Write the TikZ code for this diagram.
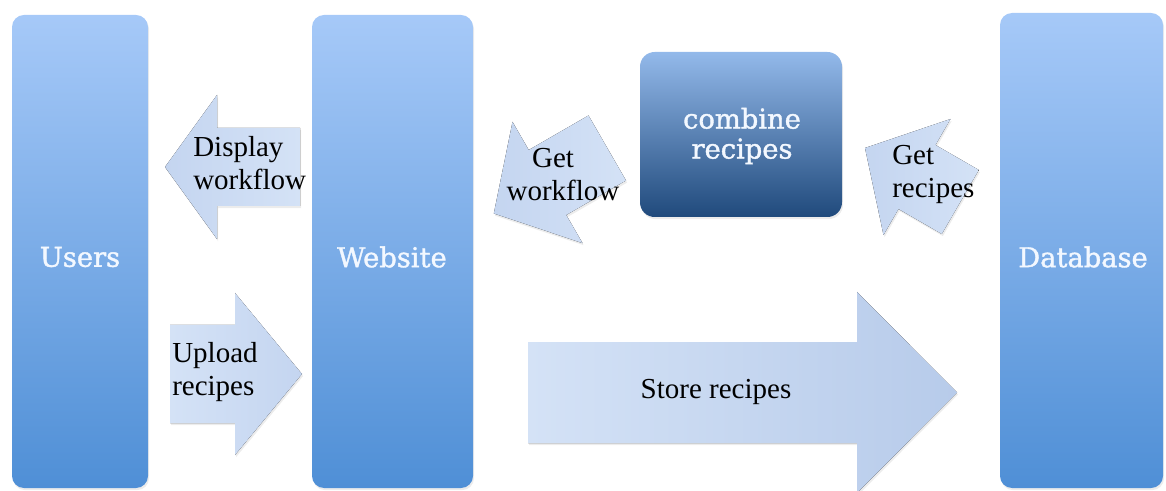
\documentclass[tikz,border=0pt]{standalone}
\usepackage{fontspec}
\setmainfont{Liberation Serif}
\newfontfamily\boxfont[FakeBold=1.4]{DejaVu Serif}
\usetikzlibrary{shadows}
\definecolor{tallTop}{HTML}{A6C9F8}
\definecolor{tallBot}{HTML}{4F8FD6}
\definecolor{combTop}{HTML}{93B9EA}
\definecolor{combBot}{HTML}{204A7C}
\definecolor{arrLight}{HTML}{D4E2F6}
\definecolor{arrMid}{HTML}{C4D5F0}
\definecolor{arrDark}{HTML}{B7CBEA}
\definecolor{boxText}{HTML}{F3F8FF}
\begin{document}
\begin{tikzpicture}[x=0.75pt,y=-0.75pt,
  softshadow/.style={drop shadow={opacity=0.15,shadow xshift=0.8pt,shadow yshift=-1.6pt}},
  tallbox/.style={rectangle, rounded corners=9pt, top color=tallTop, bottom color=tallBot, softshadow, inner sep=0pt},
  combbox/.style={rectangle, rounded corners=11pt, top color=combTop, bottom color=combBot, softshadow, inner sep=0pt},
  boxlabel/.style={text=boxText, font=\boxfont\fontsize{20.5pt}{22.5pt}\selectfont, align=center, inner sep=0pt},
  arrlabel/.style={text=black, font=\fontsize{21.75pt}{24.75pt}\selectfont, inner sep=0pt},
  blockarrow/.style={softshadow}
]
\useasboundingbox (0,0) rectangle (1166,491);

% --- main boxes
\node[tallbox, minimum width=102pt, minimum height=354.75pt] (users) at (80,251.5) {};
\node[tallbox, minimum width=120.75pt, minimum height=354.75pt] (website) at (392.5,251.5) {};
\node[tallbox, minimum width=122.25pt, minimum height=356.25pt] (database) at (1081.5,250.5) {};
\node[combbox, minimum width=151.5pt, minimum height=123.75pt] (combine) at (741,134.5) {};

\node[boxlabel] (users-t) at (80,257) {Users};
\node[boxlabel] (website-t) at (392,257) {Website};
\node[boxlabel] (database-t) at (1083,257) {Database};
\node[boxlabel] (combine-t) at (742,136) {combine\\recipes};

% --- block arrows
% Display workflow (Website -> Users)
\coordinate (dw-tip) at (165,167);
\fill[blockarrow, left color=arrMid, right color=arrLight]
  (dw-tip) -- (217,95) -- (217,128) -- (300,128) -- (300,206) -- (217,206) -- (217,239) -- cycle;
% Upload recipes (Users -> Website)
\coordinate (ur-tip) at (302,374);
\fill[blockarrow, left color=arrLight, right color=arrMid]
  (170,325) -- (235,325) -- (235,293) -- (ur-tip) -- (235,455) -- (235,423) -- (170,423) -- cycle;
% Store recipes (Website -> Database)
\coordinate (sr-tip) at (957,392.5);
\fill[blockarrow, left color=arrLight, right color=arrDark]
  (528,342) -- (857,342) -- (857,292) -- (sr-tip) -- (857,493) -- (857,443) -- (528,443) -- cycle;
% Get workflow (combine -> Website)
\coordinate (gw-tip) at (493.8,213.5);
\fill[blockarrow, left color=arrMid, right color=arrLight]
  (gw-tip) -- (582.5,243.1) -- (566.25,215) -- (626,180.5) -- (588.5,115.5) -- (528.75,150) -- (512.5,121.9) -- cycle;
% Get recipes (Database -> combine)
\coordinate (gr-tip) at (865,148);
\fill[blockarrow, left color=arrMid, right color=arrLight]
  (gr-tip) -- (950.5,119) -- (935.5,145) -- (978.8,170) -- (941.8,234) -- (898.5,209) -- (883.5,235) -- cycle;

% --- arrow labels
\node[arrlabel, align=left, anchor=west] (dw-t) at (193,163) {Display\\workflow};
\node[arrlabel, align=left, anchor=west] (ur-t) at (172,372) {Upload\\recipes};
\node[arrlabel] (sr-t) at (716,392) {Store recipes};
\node[arrlabel, align=center] (gw-t) at (563,175) {Get\hspace*{15pt}\\workflow};
\node[arrlabel, align=left, anchor=west] (gr-t) at (892,174) {Get\\recipes};
\end{tikzpicture}
\end{document}
